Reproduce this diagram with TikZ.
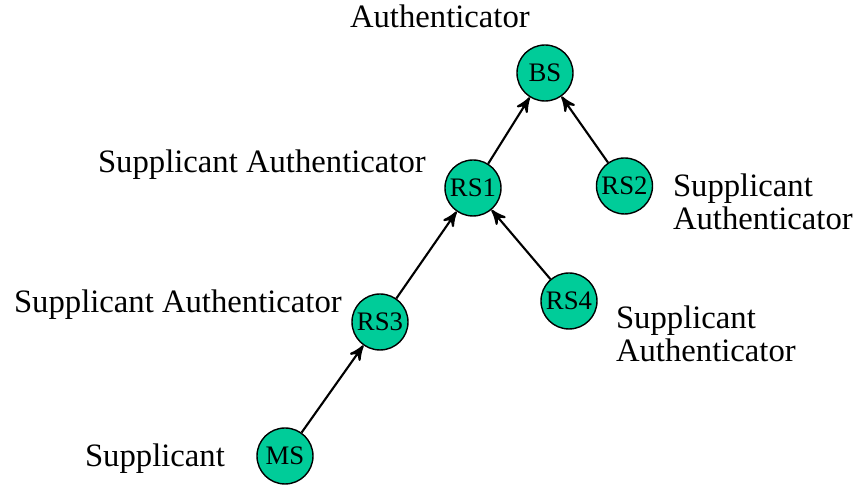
\documentclass[tikz,border=0pt]{standalone}
\usepackage{fontspec}
\setmainfont{Liberation Serif}
\usetikzlibrary{arrows}
\definecolor{stationgreen}{RGB}{0,204,153}

\begin{document}
\begin{tikzpicture}[->,>=stealth',shorten >=0pt,semithick,
                    station/.style={circle,draw,thin,fill=stationgreen,minimum size=0.56cm,
                                    inner sep=0pt,font=\fontsize{7.6}{8}\selectfont},
                    role/.style={anchor=base west,align=left,inner sep=0pt,
                                 font=\fontsize{9.3}{9.6}\selectfont}]
  \useasboundingbox (0,0) rectangle (8.53,4.85);

  \node[station] (BS)  at (5.45,4.12) {BS};
  \node[station] (RS1) at (4.73,2.97) {RS1};
  \node[station] (RS2) at (6.245,2.99) {RS2};
  \node[station] (RS3) at (3.80,1.63) {RS3};
  \node[station] (RS4) at (5.69,1.84) {RS4};
  \node[station] (MS)  at (2.85,0.29) {MS};

  \node[role] (bslabel)  at (3.49,4.57) {Authenticator};
  \node[role] (rs1label) at (0.97,3.12) {Supplicant Authenticator};
  \node[role] (rs2label) at (6.72,2.55) {Supplicant\\Authenticator};
  \node[role] (rs3label) at (0.13,1.72) {Supplicant Authenticator};
  \node[role] (rs4label) at (6.15,1.23) {Supplicant\\Authenticator};
  \node[role] (mslabel)  at (0.84,0.18) {Supplicant};

  \path
    (RS1) edge (BS)
    (RS2) edge (BS)
    (RS3) edge (RS1)
    (RS4) edge (RS1)
    (MS)  edge (RS3);
\end{tikzpicture}
\end{document}
